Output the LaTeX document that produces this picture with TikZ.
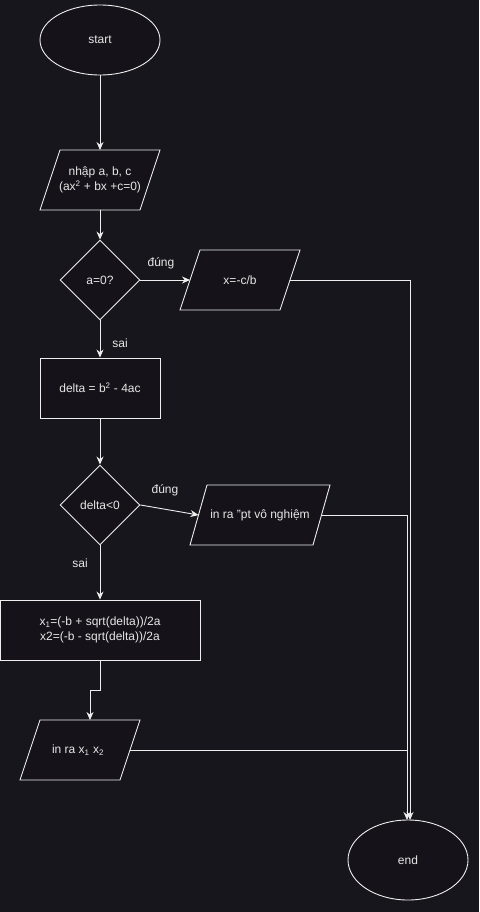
\documentclass[tikz,border=0pt]{standalone}
\usepackage{fontspec}
\setmainfont{Liberation Sans}
\usetikzlibrary{shapes.geometric,arrows.meta}
\definecolor{bg}{RGB}{24,22,29}
\definecolor{shapefill}{RGB}{21,19,25}
\definecolor{ink}{RGB}{238,238,238}
\definecolor{txt}{RGB}{230,230,230}
\begin{document}
\begin{tikzpicture}[x=1pt,y=-1pt,
  every node/.style={text=txt,font=\fontsize{12}{15}\selectfont},
  term/.style={ellipse,draw=ink,fill=shapefill,minimum width=120pt,minimum height=70pt,inner sep=0pt,line width=0.9pt},
  dec/.style={diamond,draw=ink,fill=shapefill,minimum width=80pt,minimum height=80pt,inner sep=0pt,line width=0.9pt},
  proc/.style={rectangle,draw=ink,fill=shapefill,minimum width=120pt,minimum height=60pt,inner sep=0pt,line width=0.9pt},
  io/.style={draw=ink,fill=shapefill,line width=0.9pt,line join=miter},
  flow/.style={draw=ink,line width=0.9pt,-{Stealth[length=8pt,width=7pt]}},
  plain/.style={draw=ink,line width=0.9pt},
  lbl/.style={inner sep=0pt}]
\fill[bg] (0,0) rectangle (479,912);
\useasboundingbox (0,0) rectangle (479,912);

% start
\node[term] (start) at (100,40) {start};

% input
\draw[io] (60,150) -- (160,150) -- (140,210) -- (40,210) -- cycle;
\node[align=center] (input) at (100,180) {nhập a, b, c\\(ax\textsuperscript{2} + bx +c=0)};
\coordinate (inputT) at (100,150);
\coordinate (inputB) at (100,210);
\draw[flow] (start.south) -- (inputT);

% decision a=0
\node[dec] (d1) at (100,280) {a=0?};
\draw[flow] (inputB) -- (d1.north);

% x=-c/b
\draw[io] (200,250) -- (300,250) -- (280,310) -- (180,310) -- cycle;
\node (xcb) at (240,280) {x=-c/b};
\coordinate (xcbL) at (190,280);
\coordinate (xcbR) at (290,280);
\draw[flow] (d1.east) -- (xcbL);
\node[lbl] (yes1) at (161,263) {đúng};

% delta
\node[proc] (delta) at (100,388) {delta = b\textsuperscript{2} - 4ac};
\draw[flow] (d1.south) -- (delta.north);
\node[lbl] (no1) at (120,343) {sai};

% decision delta<0
\node[dec] (d2) at (100,505) {delta<0};
\draw[flow] (delta.south) -- (d2.north);

% no solution
\draw[io] (207,485) -- (330,485) -- (313,545) -- (190,545) -- cycle;
\node (nvn) at (260,515) {in ra "pt vô nghiệm};
\coordinate (nvnL) at (198.5,515);
\coordinate (nvnR) at (321.5,515);
\draw[flow] (d2.east) -- (nvnL);
\node[lbl] (yes2) at (165,490) {đúng};

% calc
\node[proc,minimum width=200pt,align=center] (calc) at (100,630) {x\textsubscript{1}=(-b + sqrt(delta))/2a\\x2=(-b - sqrt(delta))/2a};
\draw[flow] (d2.south) -- (calc.north);
\node[lbl] (no2) at (80,563) {sai};

% output
\draw[io] (40,720) -- (140,720) -- (120,780) -- (20,780) -- cycle;
\node (out) at (78,750) {in ra x\textsubscript{1} x\textsubscript{2}};
\coordinate (outT) at (90,720);
\coordinate (outR) at (130,750);
\coordinate (bend1) at (100,690);
\coordinate (bend2) at (90,690);
\draw[flow] (calc.south) -- (bend1) -- (bend2) -- (outT);

% end
\node[term,minimum height=80pt] (end) at (408,860) {end};
\coordinate (endA) at (410,820);
\coordinate (endB) at (407,820);
\coordinate (j1) at (410,280);
\coordinate (j2) at (407,515);
\coordinate (j3) at (407,750);
\draw[flow] (xcbR) -- (j1) -- (endA);
\draw[flow] (nvnR) -- (j2) -- (endB);
\draw[plain] (outR) -- (j3);
\end{tikzpicture}
\end{document}
